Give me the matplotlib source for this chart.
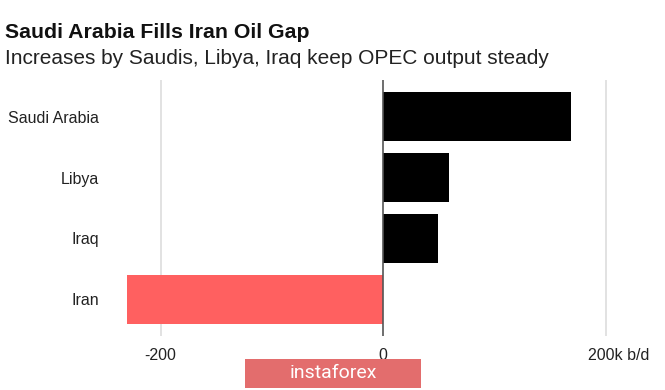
import matplotlib.pyplot as plt
from matplotlib.patches import Rectangle
from matplotlib.transforms import ScaledTranslation

countries = ['Saudi Arabia', 'Libya', 'Iraq', 'Iran']
change = [169, 59, 49, -230]  # thousand barrels per day
colors = ['#000000', '#000000', '#000000', '#ff6060']

tick_vals = [-200, 0, 200]
tick_labels = ['-200', '0', '200k b/d']

plt.rcParams['font.family'] = ['Liberation Sans', 'DejaVu Sans']

W, H = 665, 390
fig = plt.figure(figsize=(W / 100, H / 100), dpi=100)

xmin, xmax = -230, 231
px_per_unit = 222.5 / 200
left_px = 383 + xmin * px_per_unit
right_px = 383 + xmax * px_per_unit
ax = fig.add_axes([left_px / W, (H - 336) / H, (right_px - left_px) / W, 256 / H])

ax.barh(range(len(countries)), change, height=0.8, color=colors, zorder=2)
ax.set_xlim(xmin, xmax)
ax.set_ylim(len(countries) - 0.4, -0.6)

ax.set_yticks(range(len(countries)))
ax.set_yticklabels(countries, fontsize=11.5, color='#222222')
ax.set_xticks(tick_vals)
ax.set_xticklabels(tick_labels, fontsize=11.5, color='#222222')
ax.tick_params(axis='y', length=0, pad=20)
ax.tick_params(axis='x', length=0, pad=9)

# shift the last tick label so "200" sits under its gridline
lbl = ax.get_xticklabels()[-1]
lbl.set_horizontalalignment('left')
lbl.set_transform(lbl.get_transform() + ScaledTranslation(-17 / 100, 0, fig.dpi_scale_trans))

for s in ax.spines.values():
    s.set_visible(False)

for v in tick_vals:
    if v == 0:
        ax.axvline(v, color='#555555', lw=1.2, zorder=3)
    else:
        ax.axvline(v, color='#dddddd', lw=1.2, zorder=1)

fig.text(5 / W, 1 - 37.5 / H, 'Saudi Arabia Fills Iran Oil Gap', fontsize=15.3,
         fontweight='bold', color='#111111', va='baseline')
fig.text(5 / W, 1 - 64 / H, 'Increases by Saudis, Libya, Iraq keep OPEC output steady',
         fontsize=15, color='#222222', va='baseline')

# watermark
fig.patches.append(Rectangle((245 / W, (H - 388) / H), 176 / W, 29 / H,
                             transform=fig.transFigure, facecolor='#e36d6d',
                             edgecolor='none', zorder=5))
fig.text(333 / W, (H - 373.5) / H, 'instaforex', fontsize=14, color='white',
         ha='center', va='center', zorder=6, family=['Roboto', 'DejaVu Sans'])

fig.savefig('out.png', dpi=100)
